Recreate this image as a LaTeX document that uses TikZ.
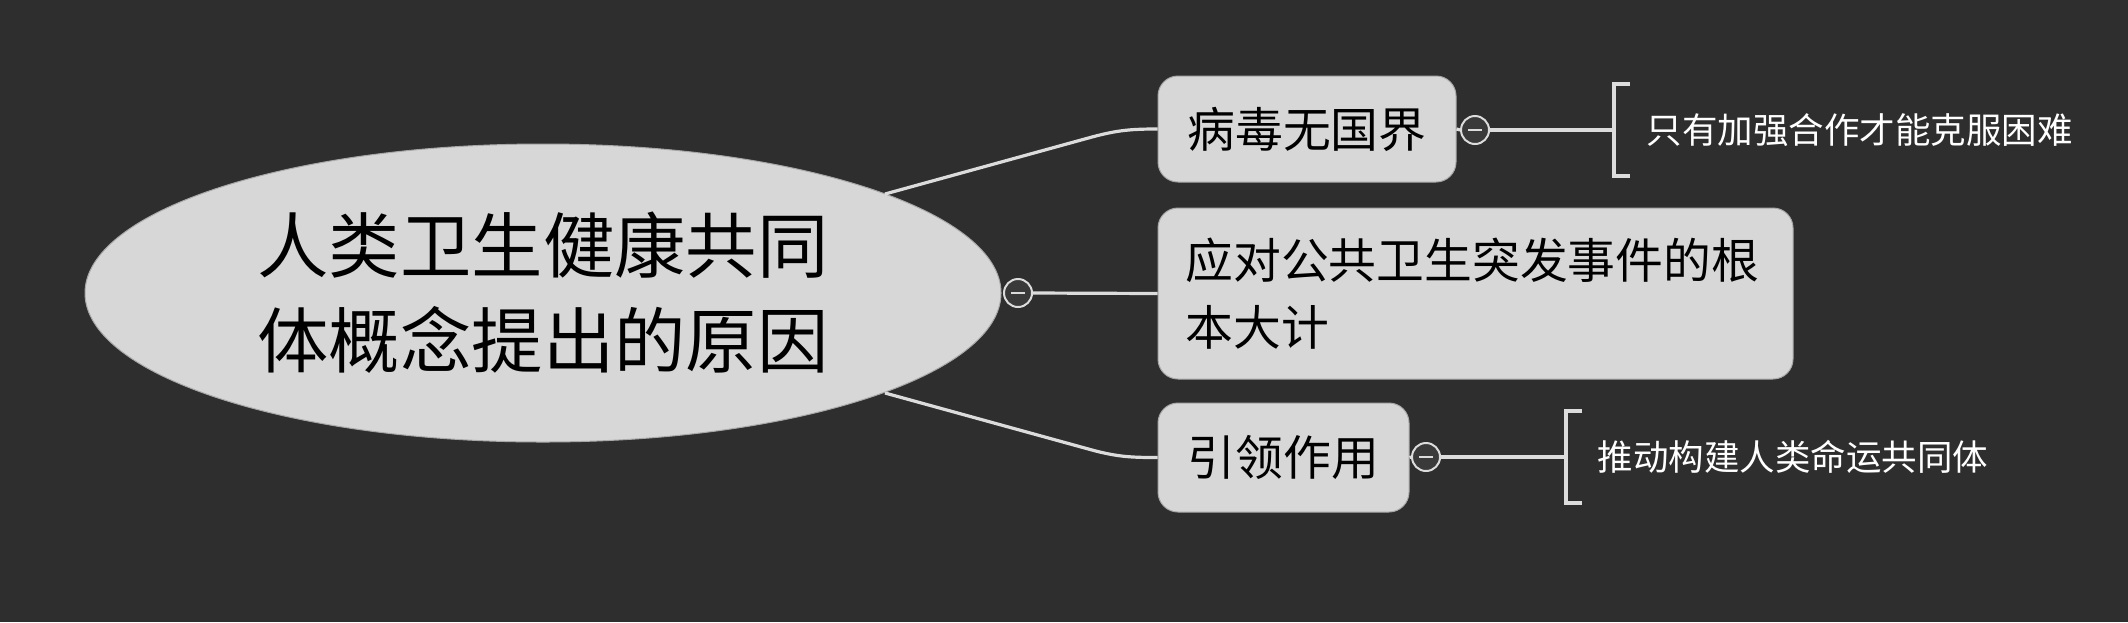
\documentclass[tikz,border=0pt]{standalone}
\usepackage{fontspec}
\newfontfamily\cjk{Noto Sans CJK SC}
\usetikzlibrary{shapes.geometric}
\def\px{0.2845pt}
\definecolor{bgcol}{HTML}{2E2E2E}
\definecolor{nodefill}{HTML}{D7D7D7}
\definecolor{nodeedge}{HTML}{A8A8A8}
\definecolor{linecol}{HTML}{DCDCDC}
\definecolor{circfill}{HTML}{3A3A3A}
\tikzset{
  conn/.style={draw=linecol, line width=3.2*\px},
  topic/.style={draw=nodeedge, fill=nodefill, line width=1*\px, rounded corners=20*\px, text=black, inner sep=0pt},
  collapse/.style={circle, draw=linecol, fill=circfill, line width=2*\px, minimum size=28*\px, inner sep=0pt},
  minus/.style={draw=linecol, line width=2*\px},
  leaf/.style={anchor=west, text=white, inner sep=0pt, font=\cjk\fontsize{10.1pt}{12pt}\selectfont},
}
\begin{document}
\begin{tikzpicture}[x=\px, y=-\px]
\fill[bgcol] (0,0) rectangle (2128,622);
\useasboundingbox (0,0) rectangle (2128,622);

% central topic
\node[ellipse, fill=nodefill, draw=nodeedge, line width=1*\px, minimum width=916*\px, minimum height=298*\px, inner sep=0pt, align=center,
      font=\cjk\fontsize{20.3pt}{27pt}\selectfont] (main) at (543,293) {人类卫生健康共同\\体概念提出的原因};

% subtopics
\node[topic, minimum width=298*\px, minimum height=106*\px, font=\cjk\fontsize{13.6pt}{16pt}\selectfont] (n1) at (1307,129) {病毒无国界};
\node[topic, minimum width=635*\px, minimum height=171*\px, text width=580*\px, inner xsep=27.5*\px, align=left,
      font=\cjk\fontsize{13.6pt}{19pt}\selectfont] (n2) at (1475.5,293.5) {应对公共卫生突发事件的根\\本大计};
\node[topic, minimum width=251*\px, minimum height=109*\px, font=\cjk\fontsize{13.6pt}{16pt}\selectfont] (n3) at (1283.5,457.5) {引领作用};

% collapse buttons
\node[collapse] (c1) at (1475,130) {};
\node[collapse] (c2) at (1018,293) {};
\node[collapse] (c3) at (1426,457) {};
\foreach \c in {c1,c2,c3}{
  \draw[minus] ([xshift=-7*\px]\c.center) -- ([xshift=7*\px]\c.center);
}

% connectors from central topic
\coordinate (a1) at (885,194);
\coordinate (a3) at (885,393);
\draw[conn] (a1) -- (1092,137) .. controls (1118,130) and (1132,129) .. (n1.west);
\draw[conn] (a3) -- (1092,450) .. controls (1118,457) and (1132,457.5) .. (n3.west);
\draw[conn] (c2.east) -- (n2.west);

% summaries / leaves
\draw[conn] (n1.east) -- (c1.west);
\coordinate (b1) at (1614,130);
\draw[conn] (c1.east) -- (b1);
\draw[conn] (1630,84) -- (1614,84) -- (1614,176) -- (1630,176);
\node[leaf] (l1) at (1646,130) {只有加强合作才能克服困难};

\draw[conn] (n3.east) -- (c3.west);
\coordinate (b3) at (1566,457);
\draw[conn] (c3.east) -- (b3);
\draw[conn] (1582,411) -- (1566,411) -- (1566,503) -- (1582,503);
\node[leaf] (l3) at (1597,457) {推动构建人类命运共同体};
\end{tikzpicture}
\end{document}
